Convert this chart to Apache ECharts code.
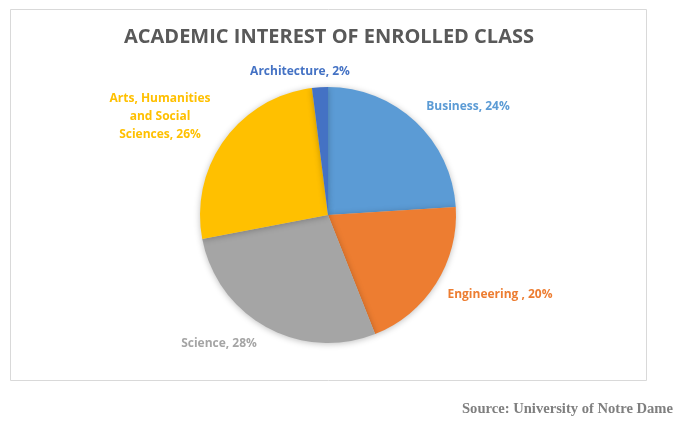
<!DOCTYPE html>
<html>
<head>
<meta charset="utf-8">
<script src="https://cdn.jsdelivr.net/npm/echarts@6/dist/echarts.min.js"></script>
<style>
html,body{margin:0;padding:0;background:#fff;}
#chart{width:681px;height:427px;}
</style>
</head>
<body>
<div id="chart"></div>
<script>
const categories = ['Business', 'Engineering ', 'Science', 'Arts, Humanities\nand Social\nSciences', 'Architecture'];
const values = [24, 20, 28, 26, 2];
const colors = ['#5B9BD5', '#ED7D31', '#A5A5A5', '#FFC000', '#4472C4'];
const labelPos = [[468, 107], [500, 295], [219, 344], [160, 117], [300, 72]];

const chart = echarts.init(document.getElementById('chart'));
chart.setOption({
  animation: false,
  backgroundColor: '#fff',
  title: {
    text: 'ACADEMIC INTEREST OF ENROLLED CLASS',
    left: 324, top: 22, textAlign: 'center',
    textStyle: { fontFamily: 'Open Sans', fontWeight: 'bold', fontSize: 20, color: '#595959' }
  },
  graphic: [
    { type: 'rect', shape: { x: 10.5, y: 9.5, width: 636, height: 371 }, style: { fill: 'none', stroke: '#D9D9D9', lineWidth: 1 }, z: -1 },
    { type: 'text', right: 8, top: 402, style: { text: 'Source: University of Notre Dame', font: 'bold 14.6px "Liberation Serif"', fill: '#7F7F7F' } }
  ],
  series: [{
    type: 'pie',
    center: [328, 215],
    radius: [0, 128],
    startAngle: 90,
    clockwise: true,
    data: categories.map((c, i) => ({
      name: c, value: values[i],
      itemStyle: { color: colors[i] },
      label: { color: colors[i] }
    })),
    itemStyle: { shadowBlur: 6, shadowColor: 'rgba(0,0,0,0.25)', shadowOffsetX: 0, shadowOffsetY: 1 },
    label: {
      show: true, position: 'outside',
      formatter: p => p.name + ', ' + p.value + '%',
      fontFamily: 'Open Sans', fontWeight: 'bold', fontSize: 12, lineHeight: 18,
      align: 'center'
    },
    labelLine: { show: false },
    labelLayout: p => ({ x: labelPos[p.dataIndex][0], y: labelPos[p.dataIndex][1], align: 'center', verticalAlign: 'middle' })
  }]
});
</script>
</body>
</html>
